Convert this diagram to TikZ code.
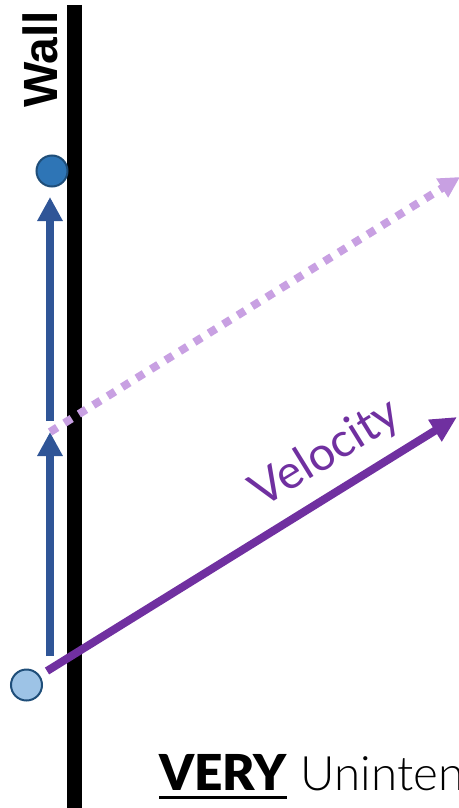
\documentclass[tikz,border=0pt]{standalone}
\usepackage{fontspec}
\setmainfont{Lato}
\newfontfamily\wallfont{Liberation Sans}
\newfontfamily\latoblack{Lato Black}
\newfontfamily\latolight{Lato Light}
\usetikzlibrary{arrows.meta}
\definecolor{wallblue}{HTML}{2F5597}
\definecolor{dotdark}{HTML}{2E75B6}
\definecolor{dotlight}{HTML}{9DC3E6}
\definecolor{dotedge}{HTML}{1F4E79}
\definecolor{velpurple}{HTML}{7030A0}
\definecolor{lavender}{HTML}{C8A0E2}
\begin{document}
\begin{tikzpicture}[x=1pt,y=-1pt,
  ball/.style={circle,draw=dotedge,line width=2pt,minimum size=31pt,inner sep=0pt},
  bluearrow/.style={draw=wallblue,line width=8pt,-{Triangle[length=24pt,width=24pt]}},
  velarrow/.style={draw=velpurple,line width=8pt,-{Triangle[length=26pt,width=24pt]}},
  ghostarrow/.style={draw=lavender,line width=8pt,dash pattern=on 8.5pt off 8.5pt,-{Triangle[length=21pt,width=21pt]}}]
\useasboundingbox (0,0) rectangle (458,808);
% wall
\coordinate (wtop) at (74.5,5);
\coordinate (wbot) at (74.5,810);
\draw[line width=15pt] (wtop) -- (wbot);
\node[rotate=90,anchor=base west,inner sep=0pt,font=\wallfont\bfseries\fontsize{48}{48}\selectfont] (wall) at (57,108) {Wall};
% balls
\node[ball,fill=dotdark] (top) at (52,171) {};
\node[ball,fill=dotlight] (bottom) at (26.5,685) {};
% blue arrows
\coordinate (u1) at (50,421);
\coordinate (u2) at (50,197);
\coordinate (l1) at (50,656);
\coordinate (l2) at (50,432);
\draw[bluearrow] (u1) -- (u2);
\draw[bluearrow] (l1) -- (l2);
% ghost arrow
\coordinate (g1) at (50,432);
\coordinate (g2) at (460,177);
\draw[ghostarrow] (g1) -- (g2);
% velocity arrow
\coordinate (v1) at (47,671);
\coordinate (v2) at (457,417);
\draw[velarrow] (v1) -- (v2);
\node[rotate=31.7,text=velpurple,font=\fontsize{47}{47}\selectfont,inner sep=0pt] (vel) at (326,454) {Velocity};
% caption
\node[anchor=base west,inner sep=0pt,font=\latoblack\fontsize{49.5}{50}\selectfont] (very) at (159,790) {VERY};
\draw[line width=3pt] ([yshift=-7pt]very.base west) -- ([yshift=-7pt]very.base east);
\node[anchor=base west,inner sep=0pt,font=\latolight\fontsize{47.5}{50}\selectfont] (unint) at (300.5,790) {Uninten};
\end{tikzpicture}
\end{document}
